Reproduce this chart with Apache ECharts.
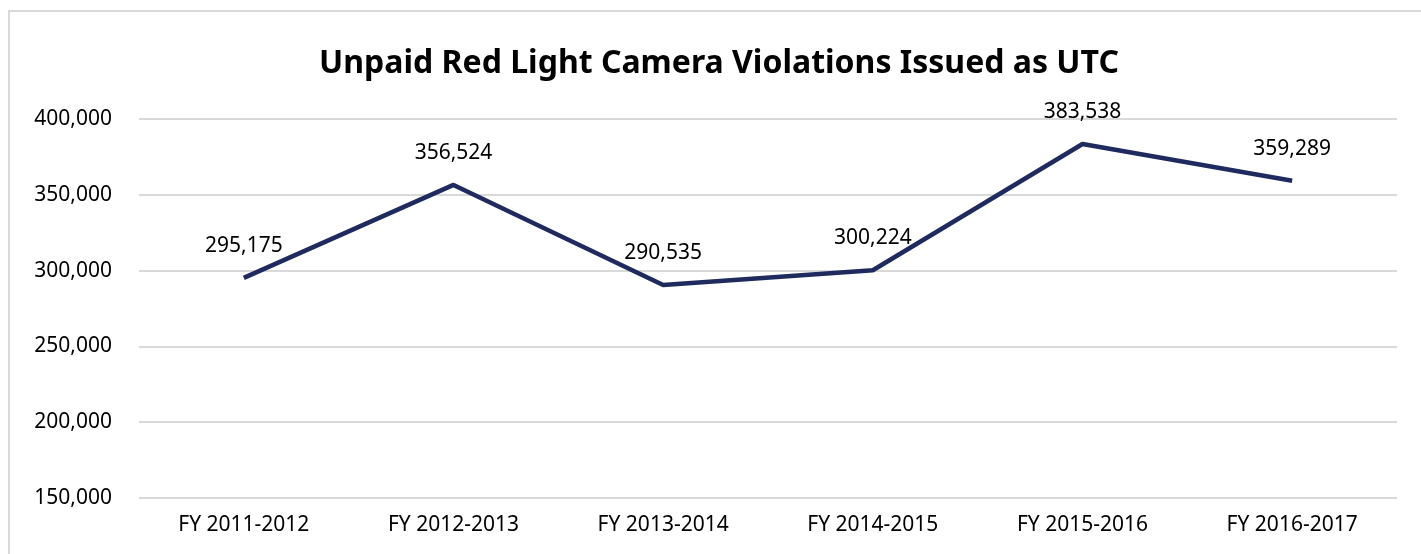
<!DOCTYPE html>
<html>
<head>
<meta charset="utf-8">
<script src="https://cdn.jsdelivr.net/npm/echarts@6/dist/echarts.min.js"></script>
<style>
html,body{margin:0;padding:0;background:#fff;}
#frame{position:absolute;left:8px;top:10px;width:1440px;height:600px;border:2px solid #d9d9d9;box-sizing:border-box;}
#chart{position:absolute;left:0;top:0;width:1421px;height:554px;}
</style>
</head>
<body>
<div id="frame"></div>
<div id="chart"></div>
<script>
const categories = ["FY 2011-2012","FY 2012-2013","FY 2013-2014","FY 2014-2015","FY 2015-2016","FY 2016-2017"];
const violations = [295175, 356524, 290535, 300224, 383538, 359289];
const chartTitle = "Unpaid Red Light Camera Violations Issued as UTC";

const fmt = v => v.toLocaleString('en-US');
const chart = echarts.init(document.getElementById('chart'), null, {renderer:'canvas'});
chart.setOption({
  backgroundColor: 'transparent',
  animation: false,
  title: {
    text: chartTitle,
    left: 714,
    top: 59,
    textAlign: 'center',
    textVerticalAlign: 'middle',
    textStyle: {fontFamily: 'Noto Sans', fontWeight: 'bold', fontSize: 32, color: '#000'}
  },
  grid: {left: 139, right: 24, top: 119, bottom: 56, containLabel: false},
  xAxis: {
    type: 'category',
    data: categories,
    boundaryGap: true,
    axisLine: {show: false},
    axisTick: {show: false},
    axisLabel: {fontFamily: 'Noto Sans', fontSize: 21, color: '#000', margin: 17}
  },
  yAxis: {
    type: 'value',
    min: 150000,
    max: 400000,
    interval: 50000,
    axisLine: {show: false},
    axisTick: {show: false},
    splitLine: {lineStyle: {color: '#d9d9d9', width: 2}},
    axisLabel: {fontFamily: 'Noto Sans', fontSize: 21, color: '#000', margin: 27, formatter: v => fmt(v)}
  },
  series: [{
    type: 'line',
    data: violations,
    symbol: 'circle',
    symbolSize: 1,
    showSymbol: true,
    itemStyle: {color: 'rgba(0,0,0,0)', borderWidth: 0},
    lineStyle: {color: '#1f2a5e', width: 4.5},
    label: {
      show: true,
      position: 'top',
      distance: 21,
      fontFamily: 'Noto Sans',
      fontSize: 21,
      color: '#000',
      formatter: p => fmt(p.value)
    }
  }]
});
</script>
</body>
</html>
